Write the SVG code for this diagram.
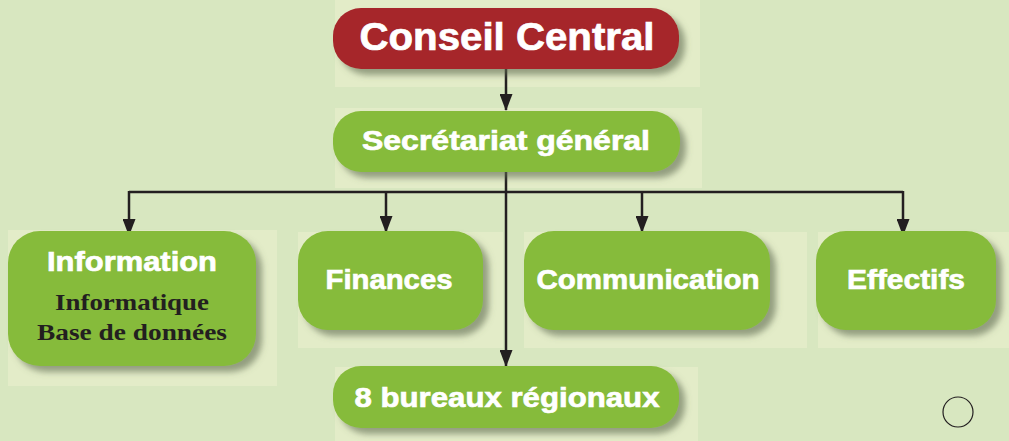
<svg xmlns="http://www.w3.org/2000/svg" width="1009" height="441" viewBox="0 0 1009 441">
<defs>
<filter id="sh" x="-10%" y="-20%" width="130%" height="150%">
<feDropShadow dx="6" dy="6" stdDeviation="3" flood-color="#5f6b4f" flood-opacity="0.6"/>
</filter>
<marker id="arr" markerWidth="17" markerHeight="13" refX="16" refY="6.5" orient="auto" markerUnits="userSpaceOnUse" viewBox="0 0 17 13">
<path d="M0,0 L17,6.5 L0,13 Z" fill="#231f20"/>
</marker>
<style>
.pad{fill:#e3ecc8}
.g{fill:#86bb3a;filter:url(#sh)}
.r{fill:#a6262c;filter:url(#sh)}
.t{font-family:"Liberation Sans",Arial,sans-serif;font-weight:bold;fill:#fff;stroke:#fff;stroke-width:0.7;text-anchor:middle}
.s{font-family:"Liberation Serif","Times New Roman",serif;font-weight:bold;fill:#231f20;text-anchor:middle;font-size:24px}
.c{stroke:#231f20;stroke-width:2.5;fill:none}
</style>
</defs>
<rect width="1009" height="441" fill="#d8e7c0"/>
<rect class="pad" x="335" y="0" width="365" height="87"/>
<rect class="pad" x="335" y="108" width="367" height="80"/>
<rect class="pad" x="8" y="230" width="269" height="156"/>
<rect class="pad" x="298" y="232" width="205" height="116"/>
<rect class="pad" x="524" y="232" width="283" height="116"/>
<rect class="pad" x="818" y="232" width="191" height="116"/>
<rect class="pad" x="335" y="367" width="363" height="74"/>
<g id="connectors">
<line class="c" x1="506" y1="68" x2="506" y2="110" marker-end="url(#arr)"/>
<line class="c" x1="506" y1="172" x2="506" y2="366" marker-end="url(#arr)"/>
<polyline class="c" points="129,192 903,192"/>
<line class="c" x1="129" y1="191" x2="129" y2="235" marker-end="url(#arr)"/>
<line class="c" x1="386" y1="191" x2="386" y2="232" marker-end="url(#arr)"/>
<line class="c" x1="642" y1="191" x2="642" y2="232" marker-end="url(#arr)"/>
<line class="c" x1="903" y1="191" x2="903" y2="235" marker-end="url(#arr)"/>
</g>
<g id="conseil">
<rect class="r" x="333" y="8" width="346" height="61" rx="28"/>
<text class="t" x="507" y="50" font-size="38" textLength="295" lengthAdjust="spacingAndGlyphs">Conseil Central</text>
</g>
<g id="secretariat">
<rect class="g" x="333" y="111" width="347" height="61" rx="28"/>
<text class="t" x="506" y="150" font-size="28" textLength="288" lengthAdjust="spacingAndGlyphs">Secrétariat général</text>
</g>
<g id="information">
<rect class="g" x="8" y="231" width="248" height="135" rx="32"/>
<text class="t" x="132" y="271" font-size="28" textLength="170" lengthAdjust="spacingAndGlyphs">Information</text>
<text class="s" x="132" y="310" textLength="154" lengthAdjust="spacingAndGlyphs">Informatique</text>
<text class="s" x="132" y="340" textLength="190" lengthAdjust="spacingAndGlyphs">Base de données</text>
</g>
<g id="finances">
<rect class="g" x="298" y="231" width="185" height="99" rx="30"/>
<text class="t" x="389" y="289" font-size="28" textLength="127" lengthAdjust="spacingAndGlyphs">Finances</text>
</g>
<g id="communication">
<rect class="g" x="524" y="231" width="246" height="99" rx="30"/>
<text class="t" x="648" y="289" font-size="28" textLength="223" lengthAdjust="spacingAndGlyphs">Communication</text>
</g>
<g id="effectifs">
<rect class="g" x="816" y="231" width="180" height="99" rx="30"/>
<text class="t" x="906" y="289" font-size="28" textLength="118" lengthAdjust="spacingAndGlyphs">Effectifs</text>
</g>
<g id="bureaux">
<rect class="g" x="333" y="366" width="346" height="62" rx="28"/>
<text class="t" x="507" y="407" font-size="28" textLength="305" lengthAdjust="spacingAndGlyphs">8 bureaux régionaux</text>
</g>
<circle cx="958" cy="412" r="15" fill="none" stroke="#231f20" stroke-width="1.2"/>
</svg>
